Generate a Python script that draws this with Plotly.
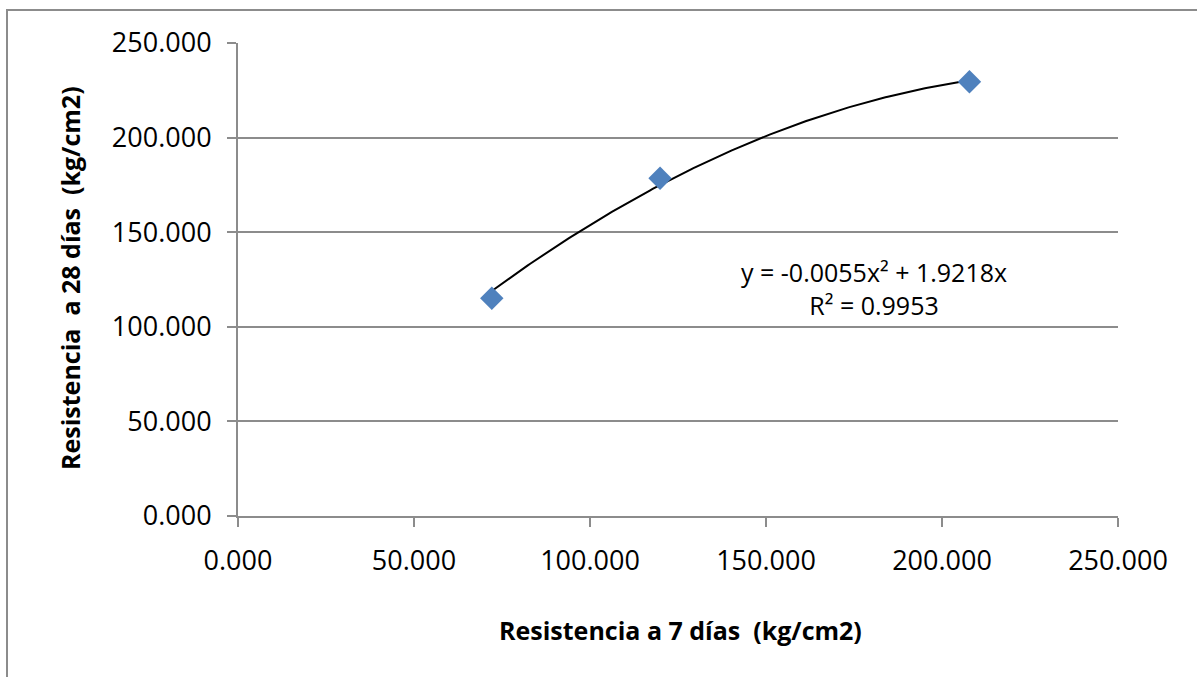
import numpy as np
import plotly.graph_objects as go

# Data
resist_7 = [72.1, 119.9, 207.8]
resist_28 = [115.1, 178.5, 229.5]
tick_vals = [0, 50, 100, 150, 200, 250]
x_title = "Resistencia a 7 días\u00a0 (kg/cm2)"
y_title = "Resistencia\u00a0 a 28 días\u00a0 (kg/cm2)"
eq_text = "y = -0.0055x² + 1.9218x"
r2_text = "R² = 0.9953"

# Polynomial (order 2) trendline, intercept forced to 0 (least squares)
xa = np.array(resist_7)
ya = np.array(resist_28)
A = np.column_stack([xa**2, xa])
coef, *_ = np.linalg.lstsq(A, ya, rcond=None)
xt = np.linspace(xa.min(), xa.max(), 200)
yt = coef[0] * xt**2 + coef[1] * xt

FONT = "Open Sans"
GRID = "#8c8c8c"

fig = go.Figure()
fig.add_trace(go.Scatter(
    x=xt, y=yt, mode="lines",
    line=dict(color="black", width=2),
    hoverinfo="skip", showlegend=False,
))
fig.add_trace(go.Scatter(
    x=resist_7, y=resist_28, mode="markers",
    marker=dict(symbol="diamond", size=18, color="#4F81BD",
                line=dict(width=0)),
    showlegend=False,
))

W, H = 1197, 677
L, R, T, B = 238, 79, 43, 161
pw, ph = W - L - R, H - T - B

def px2paper_x(px):
    return (px - L) / pw

def px2paper_y(py):
    return (H - B - py) / ph

fig.update_layout(
    width=W, height=H,
    margin=dict(l=L, r=R, t=T, b=B, pad=0),
    paper_bgcolor="white", plot_bgcolor="white",
    font=dict(family=FONT, color="black", size=26),
    xaxis=dict(
        range=[0, 250], tickvals=tick_vals, tickformat=".3f",
        showgrid=False, zeroline=False,
        showline=True, linecolor=GRID, linewidth=2,
        ticks="outside", ticklen=9, tickwidth=2, tickcolor=GRID,
        tickfont=dict(family=FONT, size=27, color="black"),
        ticklabelstandoff=11,
    ),
    yaxis=dict(
        range=[0, 250], tickvals=tick_vals, tickformat=".3f",
        showgrid=True, gridcolor=GRID, gridwidth=2, zeroline=False,
        showline=True, linecolor=GRID, linewidth=2,
        ticks="outside", ticklen=9, tickwidth=2, tickcolor=GRID,
        tickfont=dict(family=FONT, size=27, color="black"),
        ticklabelstandoff=10,
    ),
    shapes=[dict(
        type="rect", xref="paper", yref="paper",
        x0=px2paper_x(7), x1=px2paper_x(W + 20),
        y0=px2paper_y(H + 20), y1=px2paper_y(10),
        line=dict(color="#8c8c8c", width=2), fillcolor="rgba(0,0,0,0)",
        layer="below",
    )],
    annotations=[
        dict(text=x_title, xref="paper", yref="paper",
             x=px2paper_x(680), y=px2paper_y(630),
             xanchor="center", yanchor="middle", showarrow=False,
             font=dict(family=FONT, size=25, color="black", weight="bold")),
        dict(text=y_title, xref="paper", yref="paper",
             x=px2paper_x(70), y=px2paper_y(278), textangle=-90,
             xanchor="center", yanchor="middle", showarrow=False,
             font=dict(family=FONT, size=25, color="black", weight="bold")),
        dict(text=eq_text + "<br>" + r2_text, xref="paper", yref="paper",
             x=px2paper_x(874), y=px2paper_y(288),
             xanchor="center", yanchor="middle", align="center",
             showarrow=False,
             font=dict(family=FONT, size=25, color="black")),
    ],
)

fig.write_html("out.html", config={"displayModeBar": False},
               post_script="document.body.style.margin='0px';")
